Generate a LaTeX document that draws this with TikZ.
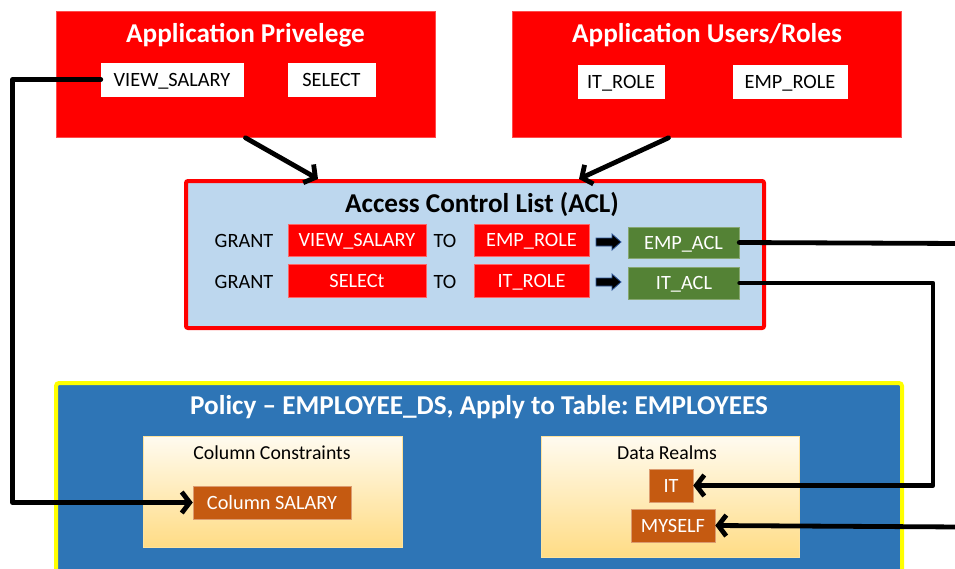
\documentclass[tikz,border=0pt]{standalone}
\usepackage{fontspec}
\setmainfont{Carlito}
\frenchspacing
\usetikzlibrary{arrows.meta,calc}

\definecolor{appred}{HTML}{FF0000}
\definecolor{aclblue}{HTML}{BDD7EE}
\definecolor{aclgreen}{HTML}{548235}
\definecolor{polblue}{HTML}{2E75B6}
\definecolor{polrim}{HTML}{FFFF00}
\definecolor{realmorange}{HTML}{C55A11}
\definecolor{creamtop}{HTML}{FFFBF0}
\definecolor{creambot}{HTML}{FFDC85}
\definecolor{arrowrim}{HTML}{2F5597}

\tikzset{
  x=1pt, y=-1pt,
  bigtitle/.style={font=\fontsize{27.2}{32}\selectfont\bfseries, inner sep=0, text height=17.5pt, text depth=0pt},
  txt/.style={font=\fontsize{20.3}{24}\selectfont, inner sep=0, text height=13pt, text depth=0pt},
  panel/.style={fill=appred, draw=appred!70!white, line width=0.6pt, inner sep=0},
  whitetag/.style={txt, fill=white, draw=white},
  redtag/.style={txt, fill=appred, draw=appred!60!white, line width=0.5pt, text=white},
  acltag/.style={txt, fill=aclgreen, draw=aclgreen!70!white, line width=0.5pt, text=white},
  realmtag/.style={txt, fill=realmorange, draw=realmorange!60!white, line width=0.5pt, text=white},
  creambox/.style={top color=creamtop, bottom color=creambot, draw=creambot!80!white, line width=0.5pt, inner sep=0},
  blockarrow/.style={fill=black, draw=arrowrim, line width=0.8pt, line join=miter},
  wire/.style={line width=4.8pt, line join=round, line cap=round},
  flow/.style={wire, -{Straight Barb[length=8pt, width=21pt, line width=4.8pt]}},
}

\begin{document}
\begin{tikzpicture}
  \clip (0,0) rectangle (955,568);
  \fill[white] (0,0) rectangle (955,568);

  % application privilege panel
  \node[panel, minimum width=379pt, minimum height=126pt] (ap) at (245.5,74.5) {};
  \node[bigtitle, text=white] (apt) at (245.5,34) {Application Privelege};
  \node[whitetag, minimum width=142pt, minimum height=33pt] (vs) at (172,79.5) {VIEW\_SALARY\hspace{7pt}};
  \node[whitetag, minimum width=87pt, minimum height=33pt] (sel) at (331.5,79.5) {SELECT\hspace{6pt}};

  % application users / roles panel
  \node[panel, minimum width=389pt, minimum height=126pt] (au) at (706.5,74.5) {};
  \node[bigtitle, text=white] (aut) at (707,34) {Application Users/Roles};
  \node[whitetag, minimum width=86pt, minimum height=33pt] (itr) at (621,82) {IT\_ROLE};
  \node[whitetag, minimum width=114pt, minimum height=33pt] (empr) at (790,82) {EMP\_ROLE};

  % access control list
  \node[fill=aclblue, draw=appred, line width=4pt, rounded corners=2pt, inner sep=0,
        minimum width=578pt, minimum height=147pt] (acl) at (475,254.5) {};
  \node[bigtitle] (aclt) at (482,204) {Access Control List (ACL)};

  \node[txt] (g1) at (244,241) {GRANT};
  \node[redtag, minimum width=138pt, minimum height=32pt] (vs2) at (357,240) {VIEW\_SALARY};
  \node[txt] (to1) at (445,241) {TO};
  \node[redtag, minimum width=115pt, minimum height=32pt] (er2) at (531.5,240) {EMP\_ROLE};
  \coordinate (ba1) at (608.5,242);
  \node[acltag, minimum width=111pt, minimum height=31pt] (ea) at (683.5,242.5) {EMP\_ACL};

  \node[txt] (g2) at (244,282) {GRANT};
  \node[redtag, minimum width=138pt, minimum height=33pt] (sel2) at (357,280.5) {SELECt};
  \node[txt] (to2) at (445,282) {TO};
  \node[redtag, minimum width=115pt, minimum height=33pt] (ir2) at (531.5,280.5) {IT\_ROLE};
  \coordinate (ba2) at (608.5,282);
  \node[acltag, minimum width=111pt, minimum height=32pt] (ia) at (684,283) {IT\_ACL};

  % block arrows between role and ACL
  \foreach \c in {ba1,ba2}
    \filldraw[blockarrow, shift={(\c)}]
      (-12.5,-4) -- (3.5,-4) -- (3.5,-8) -- (12.5,0) -- (3.5,8) -- (3.5,4) -- (-12.5,4) -- cycle;

  % policy
  \node[fill=polblue, draw=polrim, line width=4pt, rounded corners=3pt, inner sep=0,
        minimum width=846pt, minimum height=210pt] (pol) at (479,488) {};
  \node[bigtitle, text=white] (polt) at (479,406) {Policy – EMPLOYEE\_DS, Apply to Table: EMPLOYEES};

  \node[creambox, minimum width=259pt, minimum height=111pt] (cc) at (272.5,491.5) {};
  \node[txt, font=\fontsize{19.8}{24}\selectfont] (cct) at (272,453) {Column Constraints};
  \node[realmtag, minimum width=158pt, minimum height=33pt] (cs) at (272,502.5) {Column SALARY};

  \node[creambox, minimum width=258pt, minimum height=121pt] (dr) at (670,496.5) {};
  \node[txt, font=\fontsize{19.8}{24}\selectfont] (drt) at (667,453) {Data Realms};
  \node[realmtag, minimum width=44pt, minimum height=33pt] (it) at (671,485.5) {IT};
  \node[realmtag, minimum width=84pt, minimum height=33pt] (me) at (673,525.5) {MYSELF};

  % free ends of the wires leaving the right edge
  \coordinate (eaout) at (962,243.5);
  \coordinate (mein) at (962,527);

  % connectors
  \draw[flow] (ap.south) -- ($(acl.north west)+(134,0)$);
  \draw[flow] ($(au.south)+(-38,0)$) -- ($(acl.north west)+(395,0)$);
  \draw[flow] (vs.west) -- ++(-88,0) |- (cs.west);
  \draw[wire] (ea.east) -- (eaout);
  \draw[flow] (ia.east) -- (933,283) |- (it.east);
  \draw[flow] (mein) -- (me.east);
\end{tikzpicture}
\end{document}
